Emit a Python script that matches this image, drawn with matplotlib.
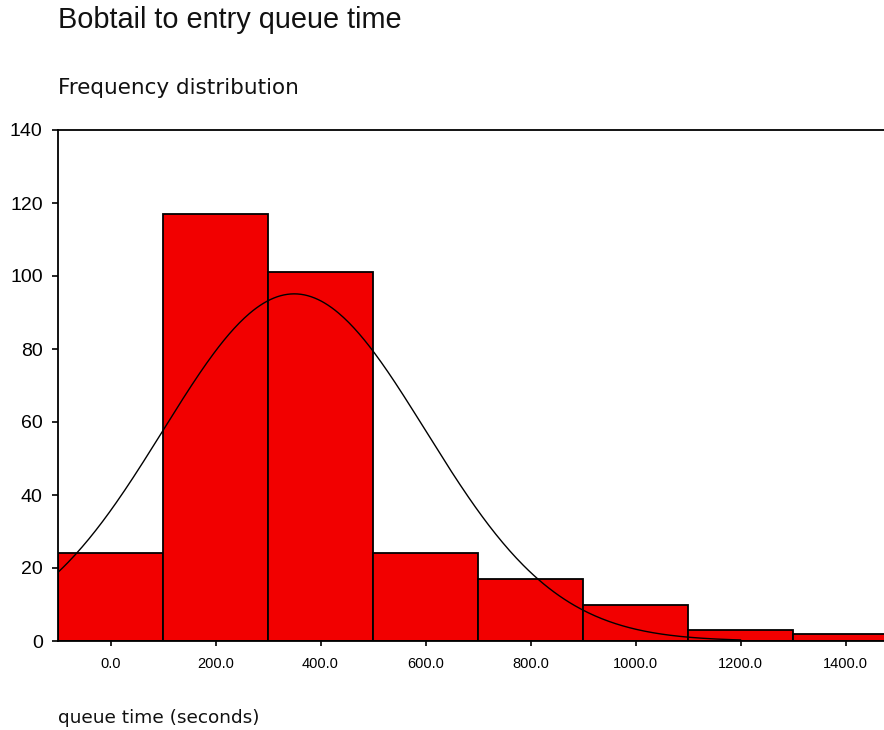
import numpy as np
import matplotlib
matplotlib.use("Agg")
import matplotlib.pyplot as plt

# histogram data
bin_centers = [0, 200, 400, 600, 800, 1000, 1200, 1400]
counts = [24, 117, 101, 24, 17, 10, 3, 2]
bin_width = 200
x_ticks = [0, 200, 400, 600, 800, 1000, 1200, 1400]
x_tick_labels = ["0.0", "200.0", "400.0", "600.0", "800.0", "1000.0", "1200.0", "1400.0"]
y_ticks = [0, 20, 40, 60, 80, 100, 120, 140]

# fitted normal curve parameters
curve_mean = 350
curve_sd = 250
curve_start, curve_end = -100, 1200

plt.rcParams['font.family'] = ['Liberation Sans', 'DejaVu Sans']

W, H = 884, 730
fig = plt.figure(figsize=(W / 100, H / 100), dpi=100)

left_px, bottom_px, top_px = 58, 641, 130
right_px = 58 + 1600 / 200 * 105  # xlim -100..1500, 105 px per 200 s
ax = fig.add_axes([left_px / W, 1 - bottom_px / H,
                   (right_px - left_px) / W, (bottom_px - top_px) / H])

ax.bar(bin_centers, counts, width=bin_width, color='#f20000',
       edgecolor='black', linewidth=1.3, zorder=2)

n_total = sum(counts)
xs = np.linspace(curve_start, curve_end, 400)
ys = n_total * bin_width / (curve_sd * np.sqrt(2 * np.pi)) * \
    np.exp(-0.5 * ((xs - curve_mean) / curve_sd) ** 2)
ax.plot(xs, ys, color='black', linewidth=1.0, zorder=3)

ax.set_xlim(-100, 1500)
ax.set_ylim(0, 140)
ax.set_xticks(x_ticks)
ax.set_xticklabels(x_tick_labels, fontsize=10.5)
ax.set_yticks(y_ticks)
ax.set_yticklabels([str(v) for v in y_ticks], fontsize=14)
ax.tick_params(axis='y', direction='out', length=4, width=1.2, pad=7)
ax.tick_params(axis='x', direction='out', length=3.5, width=1.2, pad=8)

for side in ['left', 'bottom', 'top']:
    ax.spines[side].set_linewidth(1.3)
ax.spines['right'].set_visible(False)

fig.text(left_px / W, 1 - 20 / H, "Bobtail to entry queue time",
         fontsize=20.8, va='center', ha='left', color='#111111')
fig.text(left_px / W, 1 - 88 / H, "Frequency distribution",
         fontsize=15.5, va='center', ha='left', color='#111111',
         family='DejaVu Sans')
fig.text(left_px / W, 1 - 718 / H, "queue time (seconds)",
         fontsize=13.3, va='center', ha='left', color='#111111',
         family='DejaVu Sans')

fig.savefig("out.png", dpi=100)
